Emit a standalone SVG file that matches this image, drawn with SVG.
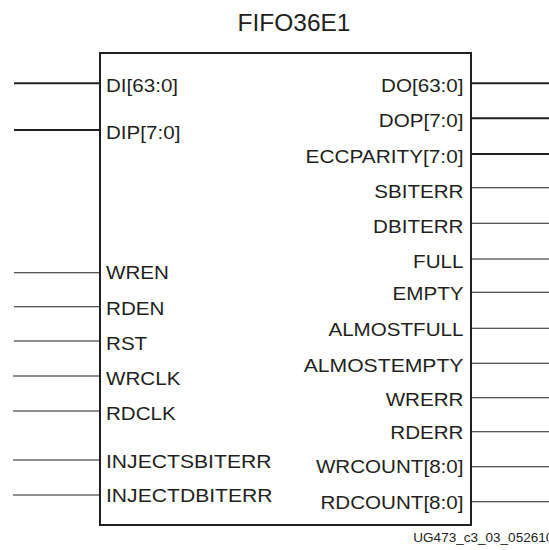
<svg xmlns="http://www.w3.org/2000/svg" width="549" height="550" viewBox="0 0 549 550">
<style>
text{font-family:"Liberation Sans",Arial,sans-serif;fill:#231f20}
.p{font-size:18.6px}
.r{text-anchor:end}
.bus{stroke:#231f20;stroke-width:2;fill:none}
.sig{stroke:#231f20;stroke-width:1.1;fill:none}
</style>
<rect width="549" height="550" fill="#fff"/>
<text x="294" y="31" font-size="24.5" text-anchor="middle">FIFO36E1</text>
<g id="fifo36e1">
<rect x="100" y="53" width="371" height="472" fill="#fff" stroke="#231f20" stroke-width="2"/>
</g>
<g id="connectors">
<line class="bus" x1="14" y1="83.3" x2="100" y2="83.3"/>
<line class="bus" x1="14" y1="130" x2="100" y2="130"/>
<line class="sig" x1="14" y1="272.7" x2="100" y2="272.7"/>
<line class="sig" x1="14" y1="306.7" x2="100" y2="306.7"/>
<line class="sig" x1="14" y1="341" x2="100" y2="341"/>
<line class="sig" x1="13" y1="376" x2="100" y2="376"/>
<line class="sig" x1="13" y1="411" x2="100" y2="411"/>
<line class="sig" x1="13" y1="460" x2="100" y2="460"/>
<line class="sig" x1="13" y1="495" x2="100" y2="495"/>
<line class="bus" x1="471" y1="83.3" x2="549" y2="83.3"/>
<line class="bus" x1="471" y1="118.3" x2="549" y2="118.3"/>
<line class="bus" x1="471" y1="154" x2="549" y2="154"/>
<line class="sig" x1="471" y1="187.7" x2="549" y2="187.7"/>
<line class="sig" x1="471" y1="223.3" x2="549" y2="223.3"/>
<line class="sig" x1="471" y1="259" x2="549" y2="259"/>
<line class="sig" x1="471" y1="292.3" x2="549" y2="292.3"/>
<line class="sig" x1="471" y1="328.3" x2="549" y2="328.3"/>
<line class="sig" x1="471" y1="363.3" x2="549" y2="363.3"/>
<line class="sig" x1="471" y1="397.7" x2="549" y2="397.7"/>
<line class="sig" x1="471" y1="431.7" x2="549" y2="431.7"/>
<line class="sig" x1="471" y1="466.7" x2="549" y2="466.7"/>
<line class="sig" x1="471" y1="501.7" x2="549" y2="501.7"/>
</g>
<g id="inputs">
<text class="p" x="106" y="91.7" textLength="72.1" lengthAdjust="spacingAndGlyphs">DI[63:0]</text>
<text class="p" x="106" y="139.3" textLength="74.4" lengthAdjust="spacingAndGlyphs">DIP[7:0]</text>
<text class="p" x="106" y="279.3" textLength="62.9" lengthAdjust="spacingAndGlyphs">WREN</text>
<text class="p" x="106" y="315" textLength="58.4" lengthAdjust="spacingAndGlyphs">RDEN</text>
<text class="p" x="106" y="350" textLength="41.2" lengthAdjust="spacingAndGlyphs">RST</text>
<text class="p" x="106" y="385" textLength="74.4" lengthAdjust="spacingAndGlyphs">WRCLK</text>
<text class="p" x="106" y="420" textLength="69.8" lengthAdjust="spacingAndGlyphs">RDCLK</text>
<text class="p" x="106" y="468.3" textLength="165.5" lengthAdjust="spacingAndGlyphs">INJECTSBITERR</text>
<text class="p" x="106" y="502.3" textLength="166.6" lengthAdjust="spacingAndGlyphs">INJECTDBITERR</text>
</g>
<g id="outputs">
<text class="p r" x="463.5" y="91.7" textLength="82.4" lengthAdjust="spacingAndGlyphs">DO[63:0]</text>
<text class="p r" x="463.5" y="127.3" textLength="84.7" lengthAdjust="spacingAndGlyphs">DOP[7:0]</text>
<text class="p r" x="463.5" y="163.3" textLength="157.9" lengthAdjust="spacingAndGlyphs">ECCPARITY[7:0]</text>
<text class="p r" x="463.5" y="197.7" textLength="89.3" lengthAdjust="spacingAndGlyphs">SBITERR</text>
<text class="p r" x="463.5" y="232.7" textLength="90.4" lengthAdjust="spacingAndGlyphs">DBITERR</text>
<text class="p r" x="463.5" y="268.3" textLength="50.4" lengthAdjust="spacingAndGlyphs">FULL</text>
<text class="p r" x="463.5" y="300" textLength="71" lengthAdjust="spacingAndGlyphs">EMPTY</text>
<text class="p r" x="463.5" y="336" textLength="135.1" lengthAdjust="spacingAndGlyphs">ALMOSTFULL</text>
<text class="p r" x="463.5" y="371.7" textLength="159.8" lengthAdjust="spacingAndGlyphs">ALMOSTEMPTY</text>
<text class="p r" x="463.5" y="406" textLength="77.8" lengthAdjust="spacingAndGlyphs">WRERR</text>
<text class="p r" x="463.5" y="439.3" textLength="73.2" lengthAdjust="spacingAndGlyphs">RDERR</text>
<text class="p r" x="463.5" y="473.3" textLength="147.6" lengthAdjust="spacingAndGlyphs">WRCOUNT[8:0]</text>
<text class="p r" x="463.5" y="509.3" textLength="143.1" lengthAdjust="spacingAndGlyphs">RDCOUNT[8:0]</text>
</g>
<text x="413.3" y="542.3" font-size="12.5" textLength="140" lengthAdjust="spacingAndGlyphs">UG473_c3_03_052610</text>
</svg>
